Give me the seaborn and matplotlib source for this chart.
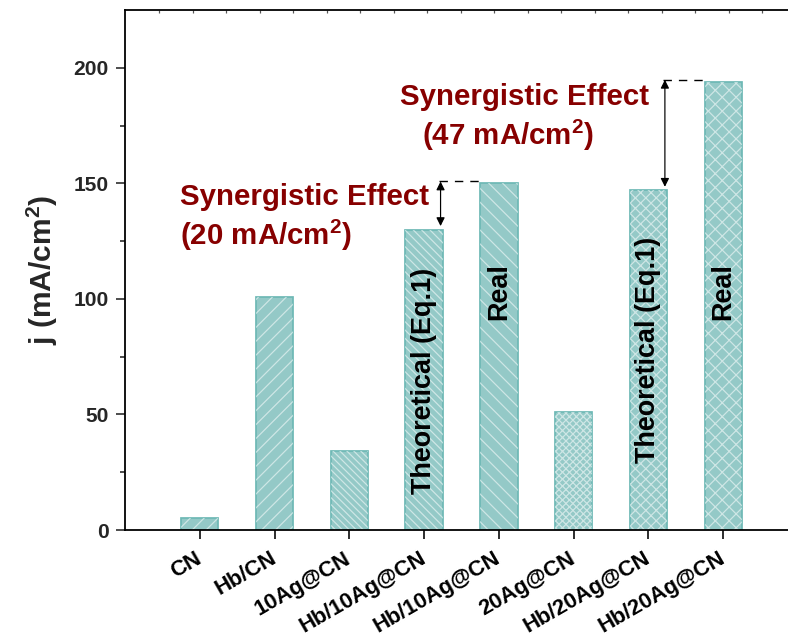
import numpy as np
import pandas as pd
import matplotlib
matplotlib.use("Agg")
import matplotlib.pyplot as plt
from matplotlib.patches import Rectangle
import seaborn as sns

# ---- data -------------------------------------------------------------
categories = ["CN", "Hb/CN", "10Ag@CN", "Hb/10Ag@CN", "Hb/10Ag@CN",
              "20Ag@CN", "Hb/20Ag@CN", "Hb/20Ag@CN"]
current_density = [5, 101, 34, 130, 150, 51, 147, 194]   # mA/cm^2
hatches = ["///", "///", "\\\\\\\\\\\\", "\\\\\\\\\\", "\\\\\\", "xxxxxx", "xxxx", "xxx"]
bar_notes = {3: "Theoretical (Eq.1)", 4: "Real", 6: "Theoretical (Eq.1)", 7: "Real"}
note_y = {3: 64.5, 4: 103, 6: 78, 7: 103}
# (theoretical bar index, real bar index)
synergy_pairs = [(3, 4), (6, 7)]

y_ticks = [0, 50, 100, 150, 200]
y_minor = [25, 75, 125, 175]

DPI = 125
PX = 72.0 / DPI   # points per pixel

sns.set_theme(style="ticks")
plt.rcParams["font.family"] = ["Liberation Sans", "DejaVu Sans"]
plt.rcParams["font.weight"] = "bold"
plt.rcParams["mathtext.fontset"] = "custom"
plt.rcParams["mathtext.rm"] = "Liberation Sans:bold"
plt.rcParams["mathtext.bf"] = "Liberation Sans:bold"
plt.rcParams["mathtext.it"] = "Liberation Sans:bold"
plt.rcParams["hatch.linewidth"] = 0.7

fill = "#94C9C7"
edge = "#6DB8B5"
hatch_col = (1, 1, 1, 0.55)
dark_red = "#870000"

df = pd.DataFrame({"pos": np.arange(len(categories)), "j": current_density})

fig = plt.figure(figsize=(788 / DPI, 641 / DPI), dpi=DPI)
ax = fig.add_axes([125 / 788, 111 / 641, 673 / 788, 520 / 641])

sns.barplot(data=df, x="pos", y="j", color=fill, width=0.5, saturation=1,
            edgecolor=edge, linewidth=1.0, ax=ax)

# white hatching drawn over each bar
bars = list(ax.patches)
for p, h in zip(bars, hatches):
    p.set_facecolor(fill)
    ov = Rectangle(p.get_xy(), p.get_width(), p.get_height(), facecolor="none",
                   edgecolor=hatch_col, linewidth=0, hatch=h, zorder=p.get_zorder() + 0.1)
    ax.add_patch(ov)

ax.set_xlim(-1, 8)
ax.set_ylim(0, 225)
ax.set_yticks(y_ticks)
ax.set_yticks(y_minor, minor=True)
ax.set_xticks(np.arange(len(categories)))
ax.set_xticklabels(categories, rotation=30, ha="right", va="center",
                   rotation_mode="anchor", fontsize=22 * PX, fontweight="bold")
ax.tick_params(axis="x", which="major", direction="out", length=9 * PX, width=1.6 * PX,
               pad=18 * PX, colors="black")
ax.tick_params(axis="y", which="major", direction="out", length=9 * PX, width=1.6 * PX,
               pad=7 * PX, labelsize=21 * PX)
ax.tick_params(axis="y", which="minor", direction="out", length=5 * PX, width=1.6 * PX)
for lab in ax.get_yticklabels():
    lab.set_fontweight("bold")

ax.set_xlabel("")
ax.set_ylabel(r"j (mA/cm$^{\mathbf{2}}$)", fontsize=30 * PX, fontweight="bold",
              labelpad=14 * PX)

for s in ["left", "bottom", "top", "right"]:
    ax.spines[s].set_visible(True)
    ax.spines[s].set_linewidth(1.8 * PX)
    ax.spines[s].set_color("black")

# tiny inward ticks on the top spine
top = ax.secondary_xaxis("top")
top.set_xticks(np.arange(-0.545, 8.0, 0.448))
top.set_xticklabels([])
top.tick_params(direction="in", length=2.5 * PX, width=1.2 * PX, colors="#555555")
top.spines["top"].set_visible(False)

# labels written inside the bars
for i, txt in bar_notes.items():
    ax.text(i, note_y[i], txt, rotation=90, ha="center", va="center",
            fontsize=27 * PX, fontweight="bold", color="black", zorder=5)

# synergy arrows and dashed reference lines
for t, r in synergy_pairs:
    x_arrow = t + 0.22
    ax.plot([x_arrow - 0.02, r - 0.25], [current_density[r] + 0.8] * 2, color="black",
            lw=1.4 * PX, linestyle=(0, (6, 5)), zorder=6)
    ax.annotate("", xy=(x_arrow, current_density[t] + 1.5),
                xytext=(x_arrow, current_density[r] + 0.8),
                arrowprops=dict(arrowstyle="<|-|>", color="black", lw=1.2 * PX,
                                mutation_scale=10, shrinkA=0, shrinkB=0), zorder=6)

# synergy value captions
d1 = current_density[4] - current_density[3]
d2 = current_density[7] - current_density[6]
cap_fs = 29.5 * PX
ax.text(-0.265, 140.6, "Synergistic Effect", ha="left", va="baseline",
        fontsize=cap_fs, fontweight="bold", color=dark_red)
ax.text(-0.265, 123.3, r"(%d mA/cm$^{\mathbf{2}}$)" % d1, ha="left", va="baseline",
        fontsize=cap_fs, fontweight="bold", color=dark_red)
ax.text(2.676, 184.0, "Synergistic Effect", ha="left", va="baseline",
        fontsize=cap_fs, fontweight="bold", color=dark_red)
ax.text(2.97, 166.6, r"(%d mA/cm$^{\mathbf{2}}$)" % d2, ha="left", va="baseline",
        fontsize=cap_fs, fontweight="bold", color=dark_red)

fig.savefig("out.png", dpi=DPI)
